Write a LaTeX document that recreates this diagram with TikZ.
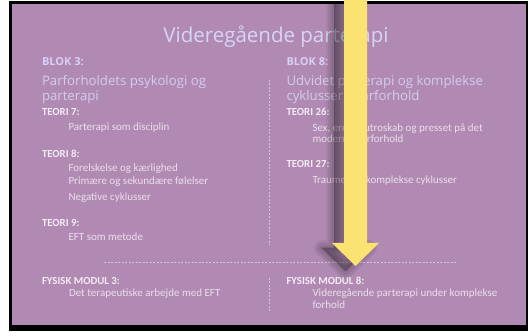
\documentclass[tikz,border=0pt]{standalone}
\usepackage{fontspec}
\setmainfont{Open Sans}
\newfontfamily\itemfont{Carlito}
\definecolor{bgpurple}{RGB}{176,138,178}
\definecolor{titlecol}{RGB}{216,212,246}
\definecolor{blokcol}{RGB}{214,208,246}
\definecolor{subcol}{RGB}{212,204,240}
\definecolor{teoricol}{RGB}{244,234,244}
\definecolor{itemcol}{RGB}{236,222,238}
\definecolor{dashcol}{RGB}{214,196,218}
\definecolor{arrowyellow}{RGB}{251,227,114}
\tikzset{
  txt/.style={anchor=base west, inner sep=0pt, outer sep=0pt},
  titletxt/.style={anchor=base, inner sep=0pt, text=titlecol, font=\fontsize{20.5}{24}\selectfont},
  bloktxt/.style={txt, text=blokcol, font=\fontsize{11}{13}\selectfont\bfseries},
  subtxt/.style={txt, text=subcol, font=\fontsize{13.2}{15}\selectfont},
  teoritxt/.style={txt, text=teoricol, font=\itemfont\fontsize{10.8}{13}\selectfont\bfseries},
  itemtxt/.style={txt, text=itemcol, font=\itemfont\fontsize{11}{13}\selectfont},
  sep/.style={draw=dashcol, line width=0.6pt, dash pattern=on 2pt off 1.5pt},
}
\begin{document}
\begin{tikzpicture}[x=1pt,y=-1pt]
\useasboundingbox (0,0) rectangle (528,336);
\fill[white] (0,0) rectangle (528,336);
% frame and background
\fill[black] (9,1.5) rectangle (528,331);
\fill[bgpurple] (12,4) rectangle (526,325.5);

% title
\node[titletxt] (title) at (276,42.5) {Videregående parterapi};

% left column
\node[bloktxt] (blok3) at (42,66) {BLOK 3:};
\node[subtxt] (sub3a) at (42,85.5) {Parforholdets psykologi og};
\node[subtxt] (sub3b) at (42,100.5) {parterapi};
\node[teoritxt] (t7) at (42,115.5) {TEORI 7:};
\node[itemtxt] (t7a) at (68.5,131) {Parterapi som disciplin};
\node[teoritxt] (t8) at (42,158) {TEORI 8:};
\node[itemtxt] (t8a) at (68.5,172) {Forelskelse og kærlighed};
\node[itemtxt] (t8b) at (68.5,184.5) {Primære og sekundære følelser};
\node[itemtxt] (t8c) at (68.5,200.5) {Negative cyklusser};
\node[teoritxt] (t9) at (42,227) {TEORI 9:};
\node[itemtxt] (t9a) at (68.5,241) {EFT som metode};
\node[teoritxt] (fm3) at (42,285) {FYSISK MODUL 3:};
\node[itemtxt] (fm3a) at (69,297) {Det terapeutiske arbejde med EFT};

% right column
\node[bloktxt] (blok8) at (286.5,66) {BLOK 8:};
\node[subtxt] (sub8a) at (286.5,85.5) {Udvidet parterapi og komplekse};
\node[subtxt] (sub8b) at (286.5,100.5) {cyklusser i parforhold};
\node[teoritxt] (t26) at (286.5,115.5) {TEORI 26:};
\node[itemtxt] (t26a) at (312.5,132) {Sex, erotik, utroskab og presset på det};
\node[itemtxt] (t26b) at (312.5,143) {moderne parforhold};
\node[teoritxt] (t27) at (286.5,168) {TEORI 27:};
\node[itemtxt] (t27a) at (312.5,184) {Traumer og komplekse cyklusser};
\node[teoritxt] (fm8) at (286.5,285) {FYSISK MODUL 8:};
\node[itemtxt] (fm8a) at (312.5,297) {Videregående parterapi under komplekse};
\node[itemtxt] (fm8b) at (312.5,308.5) {forhold};

% separators
\coordinate (v1a) at (269.3,80);
\coordinate (v1b) at (269.3,245);
\coordinate (h1a) at (104,262);
\coordinate (h1b) at (457,262);
\coordinate (v2a) at (269.3,278);
\coordinate (v2b) at (269.3,312.5);
\draw[sep] (v1a) -- (v1b);
\draw[sep] (h1a) -- (h1b);
\draw[sep] (v2a) -- (v2b);

% arrow shadow
\begin{scope}
\clip (12,4) rectangle (526,325.5);
\foreach \w in {16,12,8,4,1}{
  \filldraw[black, opacity=0.055, line width=\w pt, line join=round, shift={(-10,5)}]
    (344,-10) -- (367,-10) -- (367,243) -- (379,243) -- (355.5,266) -- (332,243) -- (344,243) -- cycle;
}
\end{scope}
% arrow
\fill[arrowyellow] (344,0) -- (367,0) -- (367,243) -- (379,243) -- (355.5,266) -- (332,243) -- (344,243) -- cycle;
\end{tikzpicture}
\end{document}
